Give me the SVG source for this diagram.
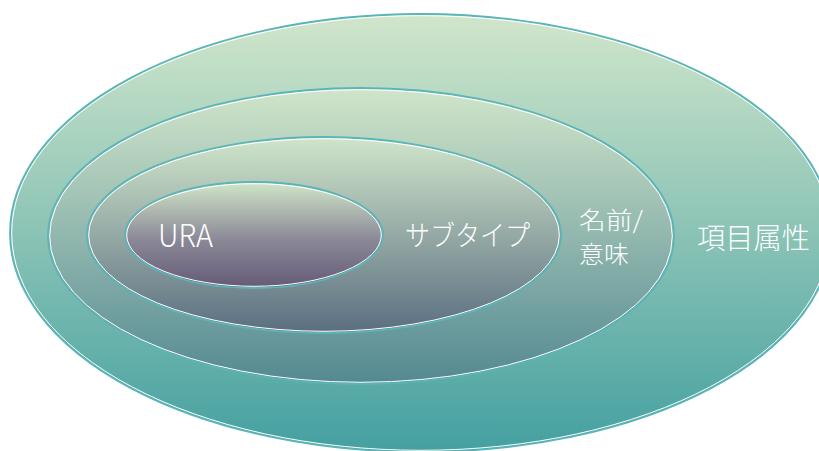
<svg xmlns="http://www.w3.org/2000/svg" width="819" height="451" viewBox="0 0 819 451">
<defs>
<linearGradient id="g1" x1="0" y1="0" x2="0" y2="1"><stop offset="0" stop-color="#d1e6cb"/><stop offset="1" stop-color="#44a0a0"/></linearGradient>
<linearGradient id="g2" x1="0" y1="0" x2="0" y2="1"><stop offset="0" stop-color="#d0e5ca"/><stop offset="1" stop-color="#538992"/></linearGradient>
<linearGradient id="g3" x1="0" y1="0" x2="0" y2="1"><stop offset="0" stop-color="#d0e5ca"/><stop offset="1" stop-color="#5a6e80"/></linearGradient>
<linearGradient id="g4" x1="0" y1="0" x2="0" y2="1"><stop offset="0" stop-color="#d0e6c8"/><stop offset="0.55" stop-color="#8a8896"/><stop offset="1" stop-color="#645a77"/></linearGradient>
</defs>
<style>
.o{stroke:#5ab5b9;stroke-width:1.8}
.w{fill:none;stroke:#ffffff;stroke-width:1}
.t{fill:#ffffff;font-family:"Noto Sans CJK JP","Noto Sans",sans-serif;font-weight:300}
</style>
<rect width="819" height="451" fill="#ffffff"/>
<g id="node-item">
<ellipse class="o" cx="421" cy="233" rx="411" ry="219" fill="url(#g1)"/>
<ellipse class="w" cx="421" cy="233" rx="409.3" ry="217.3"/>
<text class="t" x="697" y="249" font-size="29" textLength="113" lengthAdjust="spacingAndGlyphs">項目属性</text>
</g>
<g id="node-name">
<ellipse class="o" cx="361" cy="236" rx="313" ry="148" fill="url(#g2)"/>
<ellipse class="w" cx="361" cy="236" rx="311.3" ry="146.3"/>
<text class="t" font-size="24"><tspan x="579" y="229" textLength="64" lengthAdjust="spacingAndGlyphs">名前/</tspan><tspan x="579" y="263" textLength="50" lengthAdjust="spacingAndGlyphs">意味</tspan></text>
</g>
<g id="node-subtype">
<ellipse class="o" cx="324" cy="235" rx="237" ry="98" fill="url(#g3)"/>
<ellipse class="w" cx="324" cy="235" rx="235.3" ry="96.3"/>
<text class="t" x="405" y="246" font-size="28" textLength="125" lengthAdjust="spacingAndGlyphs">サブタイプ</text>
</g>
<g id="node-ura">
<ellipse class="o" cx="254" cy="235" rx="129" ry="53" fill="url(#g4)"/>
<ellipse class="w" cx="254" cy="235" rx="127.3" ry="51.3"/>
<text class="t" x="158" y="247" font-size="31" textLength="55" lengthAdjust="spacingAndGlyphs">URA</text>
</g>
<g id="connectors"/>
</svg>
